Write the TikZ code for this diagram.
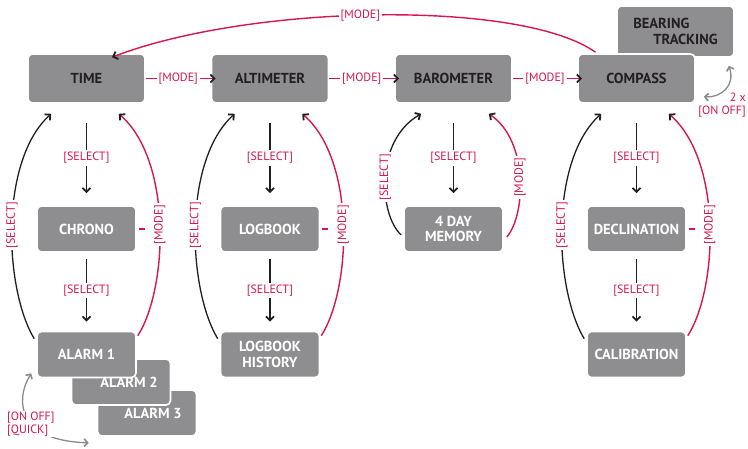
\documentclass[tikz,border=0pt]{standalone}
\usepackage{fontspec}
\setmainfont{PT Sans}
\usetikzlibrary{arrows.meta,calc}
\definecolor{boxgray}{RGB}{142,142,144}
\definecolor{mred}{RGB}{214,22,78}
\definecolor{ink}{RGB}{35,31,32}
\definecolor{agray}{RGB}{138,138,138}
\begin{document}
\begin{tikzpicture}[x=1pt,y=-1pt,
  box/.style={rectangle, rounded corners=4.5pt, fill=boxgray, draw=white, line width=1.6pt, inner sep=0pt, font=\bfseries\fontsize{14.5}{15.5}\selectfont, align=center},
  topbox/.style={box, minimum width=117pt, minimum height=49pt, text=ink},
  subbox/.style={box, minimum width=99pt, minimum height=46pt, text=white},
  lbl/.style={text=mred, fill=white, inner sep=2pt, font=\fontsize{12}{12.5}\selectfont},
  tipb/.style={-{Straight Barb[length=4pt,width=8pt,line width=1.8pt,color=ink]}},
  redline/.style={draw=mred, line width=1.4pt},
  sel/.style={draw=ink, line width=1.4pt, tipb},
  loopb/.style={draw=ink, line width=1.3pt, tipb},
  loopr/.style={redline, tipb},
  garrow/.style={draw=agray, line width=1.3pt, {Straight Barb[length=3.5pt,width=7.5pt,line width=1.6pt]}-{Straight Barb[length=3.5pt,width=7.5pt,line width=1.6pt]}}
]
\useasboundingbox (0,0) rectangle (748,448);

% top row
\node[topbox, minimum height=51pt, align=left] (bearing) at (675.5,31.5) {BEARING\\\hspace*{20pt}TRACKING};
\node[topbox] (time) at (86.5,78.5) {TIME};
\node[topbox] (alt) at (270,78.5) {ALTIMETER};
\node[topbox] (baro) at (453.5,78.5) {BAROMETER};
\node[topbox] (comp) at (636.5,78.5) {COMPASS};

% second row
\node[subbox] (chrono) at (86.5,229) {CHRONO};
\node[subbox] (logbook) at (270,229) {LOGBOOK};
\node[subbox] (memory) at (453.5,229) {4 DAY\\MEMORY};
\node[subbox] (decl) at (636.5,229) {DECLINATION};

% third row
\node[subbox] (alarm3) at (147,413) {\hspace*{12pt}ALARM 3};
\node[subbox] (alarm2) at (121,382) {\hspace*{16pt}ALARM 2};
\node[subbox] (alarm1) at (86.5,354.5) {ALARM 1};
\node[subbox] (lbhist) at (270,354.5) {LOGBOOK\\HISTORY};
\node[subbox] (calib) at (636.5,354.5) {CALIBRATION};

% horizontal MODE arrows
\draw[redline, tipb, shorten >=-5pt] (time.east) -- node[lbl]{[MODE]} (alt.west);
\draw[redline, tipb, shorten >=-5pt] (alt.east) -- node[lbl]{[MODE]} (baro.west);
\draw[redline, tipb, shorten >=-5pt] (baro.east) -- node[lbl]{[MODE]} (comp.west);

% top MODE arc
\draw[loopr] ($(comp.north)+(-41,-1)$) .. controls +(-75,-53) and +(138,-53) .. ($(time.north)+(25.5,4)$) node[lbl,pos=0.53]{[MODE]};

% vertical SELECT arrows
\draw[sel] ($(time.south)+(0,19)$) -- node[lbl]{[SELECT]} ($(chrono.north)+(0,-12)$);
\draw[sel] ($(chrono.south)+(0,6)$) -- node[lbl]{[SELECT]} ($(alarm1.north)+(0,-9)$);
\draw[sel] ($(alt.south)+(0,19)$) -- node[lbl]{[SELECT]} ($(logbook.north)+(0,-12)$);
\draw[sel] ($(logbook.south)+(0,6)$) -- node[lbl]{[SELECT]} ($(lbhist.north)+(0,-9)$);
\draw[sel] ($(baro.south)+(0,19)$) -- node[lbl]{[SELECT]} ($(memory.north)+(0,-12)$);
\draw[sel] ($(comp.south)+(0,19)$) -- node[lbl]{[SELECT]} ($(decl.north)+(0,-12)$);
\draw[sel] ($(decl.south)+(0,6)$) -- node[lbl]{[SELECT]} ($(calib.north)+(0,-9)$);

% TIME loops
\draw[loopb] ($(alarm1.north west)+(-2,8)$) .. controls +(-30,-50) and +(-52,47) .. ($(time.south west)+(24,10)$) node[lbl,rotate=90,pos=0.5]{[SELECT]};
\draw[loopr] ($(alarm1.north east)+(1,5)$) .. controls +(30,-47) and +(54,47) .. ($(time.south east)+(-27,10)$) node[lbl,rotate=90,pos=0.5]{[MODE]};
\draw[redline] ($(chrono.east)+(2,0)$) -- ++(6,0);

% ALTIMETER loops
\draw[loopb] ($(lbhist.north west)+(-2,8)$) .. controls +(-30,-50) and +(-52,47) .. ($(alt.south west)+(24,10)$) node[lbl,rotate=90,pos=0.5]{[SELECT]};
\draw[loopr] ($(lbhist.north east)+(1,5)$) .. controls +(30,-47) and +(54,47) .. ($(alt.south east)+(-27,10)$) node[lbl,rotate=90,pos=0.5]{[MODE]};
\draw[redline] ($(logbook.east)+(2,0)$) -- ++(6,0);

% BAROMETER loops
\draw[loopb] ($(memory.west)+(-2,6)$) .. controls +(-22,-20) and +(-47,27) .. ($(baro.south west)+(27,10)$) node[lbl,rotate=90,pos=0.5]{[SELECT]};
\draw[loopr] ($(memory.east)+(3,8)$) .. controls +(19,-22) and +(40,27) .. ($(baro.south east)+(-24,10)$) node[lbl,rotate=90,pos=0.5]{[MODE]};

% COMPASS loops
\draw[loopb] ($(calib.north west)+(-2,8)$) .. controls +(-30,-50) and +(-52,47) .. ($(comp.south west)+(24,10)$) node[lbl,rotate=90,pos=0.5]{[SELECT]};
\draw[loopr] ($(calib.north east)+(1,5)$) .. controls +(30,-47) and +(54,47) .. ($(comp.south east)+(-27,10)$) node[lbl,rotate=90,pos=0.5]{[MODE]};
\draw[redline] ($(decl.east)+(2,0)$) -- ++(6,0);

% compass <-> bearing
\draw[garrow] ($(comp.south east)+(8,-7)$) .. controls +(17,1) and +(7,20) .. ($(bearing.south east)+(-6,8)$);
\node[lbl, fill=none, anchor=east, align=right, inner sep=0pt] (twox) at (746,105) {2 x\\{[ON OFF]}};

% alarm cycle
\draw[garrow] ($(alarm1.south west)+(-5,-5)$) .. controls +(-17,28) and +(-70,-2) .. ($(alarm3.south west)+(-8,6)$);
\node[lbl, anchor=west, align=left, inner sep=1pt] (aq) at (6,424) {[ON OFF]\\{[QUICK]}};
\end{tikzpicture}
\end{document}
